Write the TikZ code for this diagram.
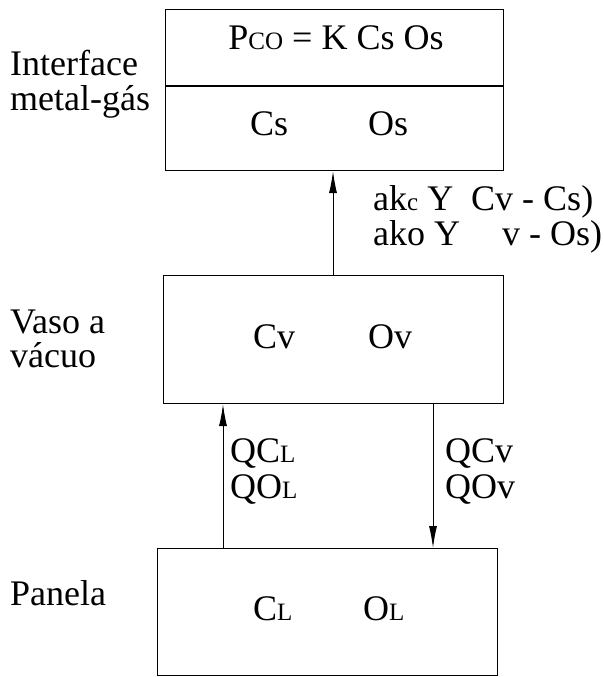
\documentclass[tikz,border=0pt]{standalone}
\usepackage{fontspec}
\setmainfont{Liberation Serif}
\usetikzlibrary{arrows.meta}
\newcommand{\sm}[1]{{\fontsize{25}{25}\selectfont #1}}
\begin{document}
\begin{tikzpicture}[x=1pt,y=-1pt,
  box/.style={draw,line width=1.1pt,rectangle,inner sep=0pt,anchor=north west},
  txt/.style={anchor=base west,inner sep=0pt,font=\fontsize{36}{40}\selectfont},
  arr/.style={line width=1pt,-{Latex[length=22pt,width=8pt]}}]
\useasboundingbox (0,0) rectangle (603,677);
% boxes
\node[box,minimum width=338pt,minimum height=161pt] (top) at (165,9) {};
\node[box,minimum width=340pt,minimum height=128pt] (mid) at (163,275) {};
\node[box,minimum width=340pt,minimum height=127pt] (bot) at (157,548) {};
\coordinate (dl) at (165,86);
\coordinate (dr) at (503,86);
\draw[line width=1.1pt] (dl) -- (dr);
% arrow columns
\coordinate (xa) at (333,0);
\coordinate (xb) at (223,0);
\coordinate (xc) at (433,0);
\draw[arr] (mid.north -| xa) -- (top.south -| xa);
\draw[arr] (bot.north -| xb) -- (mid.south -| xb);
\draw[arr] (mid.south -| xc) -- (bot.north -| xc);
% side labels
\node[txt] (l1) at (10,75) {Interface};
\node[txt] (l2) at (10,110) {metal-gás};
\node[txt] (l3) at (10,333) {Vaso a};
\node[txt] (l4) at (10,367) {vácuo};
\node[txt] (l5) at (10,605) {Panela};
% box contents
\node[txt,anchor=base] (eq) at (336,49) {P\sm{CO} = K Cs Os};
\node[txt] (cs) at (250,135) {Cs};
\node[txt] (os) at (368,135) {Os};
\node[txt] (cv) at (253,348) {Cv};
\node[txt] (ov) at (368,348) {Ov};
\node[txt] (cl) at (253,620) {C\sm{L}};
\node[txt] (ol) at (363,620) {O\sm{L}};
% arrow labels
\node[txt] (k1) at (373,210) {ak\sm{c} Y\ \ Cv - Cs)};
\node[txt] (k2) at (373,245) {ako Y\hspace{42pt}v - Os)};
\node[txt] (q1) at (230,462) {QC\sm{L}};
\node[txt] (q2) at (230,498) {QO\sm{L}};
\node[txt] (q3) at (445,462) {QCv};
\node[txt] (q4) at (445,498) {QOv};
\end{tikzpicture}
\end{document}
